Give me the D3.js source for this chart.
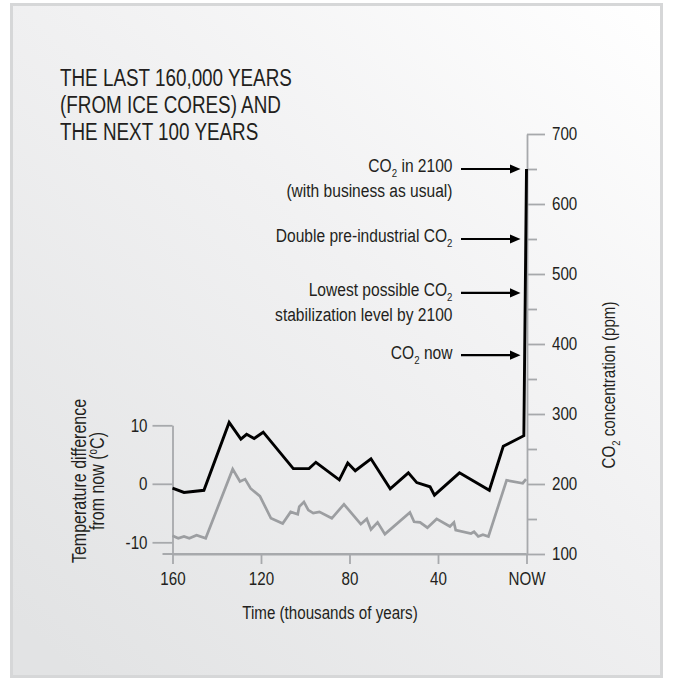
<!DOCTYPE html>
<html><head><meta charset="utf-8">
<script src="https://cdn.jsdelivr.net/npm/d3@7"></script>
<style>
body{margin:0;background:#fff}
svg{display:block}
text{font-family:'Liberation Sans',Arial,sans-serif;fill:#231f20}
</style>
</head><body>
<svg id="c" width="673" height="686"></svg>
<script>
// ---------- data ----------
const titleLines = ["THE LAST 160,000 YEARS", "(FROM ICE CORES) AND", "THE NEXT 100 YEARS"];

// CO2 (black line), time in thousands of years before now, ppm
const co2Time = [160, 154.8, 145.8, 134.4, 129.1, 126.5, 123.1, 119.0, 105.4, 98.3, 95.2, 84.6, 80.8, 77.4, 70.3, 61.6, 53.4, 49.6, 43.6, 41.6, 30.3, 16.8, 10.5, 1.2, 0];
const co2Ppm  = [194, 188, 191, 288, 264, 271, 265, 274, 222, 222, 231, 206, 230, 219, 236, 193, 216, 202, 196, 184, 216, 191, 254, 269, 650];

// Temperature difference (grey line), degrees C
const tempTime = [160, 157.4, 154.8, 152.4, 149.1, 145.0, 132.8, 129.5, 127.2, 124.7, 120.5, 115.5, 110.2, 106.6, 103.4, 102.7, 100.6, 98.6, 96.4, 93.6, 88.0, 82.5, 74.9, 72.2, 70.3, 67.3, 64.0, 52.7, 50.8, 48.1, 44.8, 40.6, 34.6, 32.8, 32.0, 25.1, 23.7, 21.8, 19.7, 17.2, 9.0, 1.7, 0.2];
const tempDiff = [-8.9, -9.3, -9.0, -9.3, -8.8, -9.3, 2.5, 0.4, 0.8, -0.8, -2.1, -5.9, -6.8, -4.8, -5.2, -3.9, -3.1, -4.5, -5.0, -4.8, -5.9, -3.5, -6.9, -6.0, -7.8, -6.6, -8.6, -4.9, -6.5, -6.6, -7.5, -6.0, -7.3, -6.6, -7.9, -8.5, -8.2, -9.0, -8.7, -9.0, 0.6, 0.1, 0.8];

const xTickValues = [160, 120, 80, 40, 0];
const xTickLabels = ["160", "120", "80", "40", "NOW"];
const tempTicks = [-10, 0, 10];
const co2Ticks = [100, 200, 300, 400, 500, 600, 700];
const co2MinorTicks = [150, 250, 350, 450, 550, 650];

const annotationPpm = [650, 550, 473, 384];
const annotationText = [
  ["CO_2 in 2100", "(with business as usual)"],
  ["Double pre-industrial CO_2"],
  ["Lowest possible CO_2", "stabilization level by 2100"],
  ["CO_2 now"]
];

const xLabel = "Time (thousands of years)";
const yLeftLabel = ["Temperature difference", "from now (^oC)"];
const yRightLabel = "CO_2 concentration (ppm)";

// ---------- drawing ----------
const svg = d3.select("#c");
const NARROW = 0.82;

const defs = svg.append("defs");
const grad = defs.append("linearGradient").attr("id", "bg")
  .attr("x1", "1").attr("y1", "0").attr("x2", "0.1").attr("y2", "1");
grad.append("stop").attr("offset", "0").attr("stop-color", "#ffffff");
grad.append("stop").attr("offset", "0.45").attr("stop-color", "#f1f1f2");
grad.append("stop").attr("offset", "1").attr("stop-color", "#e2e3e4");

svg.append("rect").attr("x", 11.5).attr("y", 4.5).attr("width", 650).attr("height", 672)
  .attr("fill", "url(#bg)").attr("stroke", "#d6d7d8").attr("stroke-width", 3);

const x = d3.scaleLinear().domain([160, 0]).range([172.5, 526.5]);
const yT = d3.scaleLinear().domain([-12, 10]).range([554, 425.3]);
const yC = d3.scaleLinear().domain([100, 700]).range([554, 134]);

const axisColor = "#a7a9ac";
function styleAxis(g) {
  g.selectAll("path.domain").attr("stroke", axisColor).attr("stroke-width", 1.8);
  g.selectAll(".tick line").attr("stroke", axisColor).attr("stroke-width", 1.8);
  g.selectAll(".tick text").attr("fill", "#231f20")
    .style("font-family", "'Liberation Sans',Arial,sans-serif")
    .style("font-size", "18.5px");
}

// left extension of x-axis baseline
svg.append("line").attr("x1", x.range()[0] - 10).attr("x2", x.range()[1])
  .attr("y1", yT.range()[0]).attr("y2", yT.range()[0])
  .attr("stroke", axisColor).attr("stroke-width", 1.8);

const gx = svg.append("g").attr("transform", `translate(0,${yT.range()[0]})`)
  .call(d3.axisBottom(x).tickValues(xTickValues).tickFormat((d, i) => xTickLabels[i])
    .tickSize(10).tickSizeOuter(0).tickPadding(8));
styleAxis(gx);

const gl = svg.append("g").attr("transform", `translate(${x.range()[0]},0)`)
  .call(d3.axisLeft(yT).tickValues(tempTicks).tickFormat(d => String(d))
    .tickSize(20).tickSizeOuter(0).tickPadding(5));
styleAxis(gl);

const grm = svg.append("g").attr("transform", `translate(527,0)`)
  .call(d3.axisRight(yC).tickValues(co2MinorTicks).tickFormat("").tickSize(10).tickSizeOuter(0));
grm.select("path.domain").remove();
styleAxis(grm);

const gr = svg.append("g").attr("transform", `translate(527,0)`)
  .call(d3.axisRight(yC).tickValues(co2Ticks).tickSize(18).tickSizeOuter(0).tickPadding(7));
styleAxis(gr);

// lines
const tempData = tempTime.map((t, i) => ({t, v: tempDiff[i]}));
const co2Data = co2Time.map((t, i) => ({t, v: co2Ppm[i]}));

svg.append("path").datum(tempData)
  .attr("d", d3.line().x(d => x(d.t)).y(d => yT(d.v)))
  .attr("fill", "none").attr("stroke", "#9c9ea1").attr("stroke-width", 2.7)
  .attr("stroke-linejoin", "miter");

svg.append("path").datum(co2Data)
  .attr("d", d3.line().x(d => x(d.t)).y(d => yC(d.v)))
  .attr("fill", "none").attr("stroke", "#000").attr("stroke-width", 2.9)
  .attr("stroke-linejoin", "miter");

// rich text helper: "_2" subscript, "^o" superscript
function rich(sel, str, size) {
  const parts = str.split(/(_2|\^o)/);
  let shift = 0;
  parts.forEach(p => {
    if (p === "_2") {
      sel.append("tspan").attr("dy", 5).style("font-size", (size * 0.62) + "px").text("2");
      shift = -5;
    } else if (p === "^o") {
      sel.append("tspan").attr("dy", -7).style("font-size", (size * 0.62) + "px").text("o");
      shift = 7;
    } else if (p.length) {
      sel.append("tspan").attr("dy", shift).text(p);
      shift = 0;
    }
  });
}

// title
svg.append("g").selectAll("text").data(titleLines).join("text")
  .attr("x", 60).attr("y", (d, i) => 86 + i * 27)
  .style("font-size", "23px").text(d => d);

// annotations with arrows
annotationPpm.forEach((v, i) => {
  const yy = yC(v);
  annotationText[i].forEach((line, j) => {
    const t = svg.append("text").attr("x", 452.5).attr("y", yy + 3.5 + j * 24.5)
      .attr("text-anchor", "end").style("font-size", "19px");
    rich(t, line, 19);
  });
  svg.append("line").attr("x1", 461).attr("x2", 511).attr("y1", yy).attr("y2", yy)
    .attr("stroke", "#000").attr("stroke-width", 2.2);
  svg.append("path").attr("d", `M510,${yy - 4.6}L520.5,${yy}L510,${yy + 4.6}Z`).attr("fill", "#000");
});

// axis titles
svg.append("text").attr("x", 330).attr("y", 619).attr("text-anchor", "middle")
  .style("font-size", "18.5px").text(xLabel);

yLeftLabel.forEach((line, j) => {
  const t = svg.append("text").attr("text-anchor", "middle")
    .attr("transform", `translate(${86 + j * 17.5},481) rotate(-90)`)
    .style("font-size", "19.5px");
  rich(t, line, 19.5);
});

const tr = svg.append("text").attr("text-anchor", "middle")
  .attr("transform", `translate(615,385) rotate(-90)`)
  .style("font-size", "18.5px");
rich(tr, yRightLabel, 18.5);

// condense all text horizontally to mimic a narrow typeface
svg.selectAll("text").each(function () {
  const t = d3.select(this);
  const tf = t.attr("transform") || "";
  const xv = +(t.attr("x") || 0);
  t.attr("x", xv / NARROW).attr("transform", (tf + ` scale(${NARROW},1)`).trim());
});
</script>
</body></html>
